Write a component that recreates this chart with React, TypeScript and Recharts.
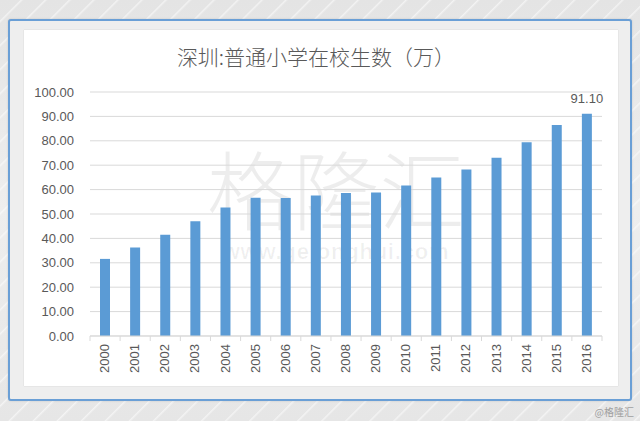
import { BarChart, Bar, XAxis, YAxis, CartesianGrid } from 'recharts';

// 深圳普通小学在校生数（万）
const years = ['2000', '2001', '2002', '2003', '2004', '2005', '2006', '2007', '2008', '2009', '2010', '2011', '2012', '2013', '2014', '2015', '2016'];
const students = [31.6, 36.3, 41.5, 47.0, 52.7, 56.7, 56.6, 57.6, 58.6, 58.8, 61.7, 65.0, 68.2, 73.1, 79.4, 86.5, 91.1];
const yTicks = [0, 10, 20, 30, 40, 50, 60, 70, 80, 90, 100];

const data = years.map((y, i) => ({ year: y, value: students[i] }));

const FONT = '"Liberation Sans", Arial, sans-serif';
const TEXT = '#595959';
const CHART_W = 594;
const CHART_H = 356;
const Y_W = 66;
const RIGHT = 16;
const HALF_BAND = (CHART_W - Y_W - RIGHT) / years.length / 2;

function YearTick({ x, y, payload, index }: any) {
  return (
    <g>
      <line x1={x - HALF_BAND} x2={x - HALF_BAND} y1={y - 8} y2={y - 3} stroke="#d9d9d9" />
      {index === years.length - 1 && (
        <line x1={x + HALF_BAND} x2={x + HALF_BAND} y1={y - 8} y2={y - 3} stroke="#d9d9d9" />
      )}
      <text
        x={0}
        y={0}
        transform={`translate(${x + 4},${y}) rotate(-90)`}
        textAnchor="end"
        fill={TEXT}
        fontSize={13}
        fontFamily={FONT}
      >
        {payload.value}
      </text>
    </g>
  );
}

function LastLabel({ x, y, width, index, value }: any) {
  if (index !== years.length - 1) return null;
  return (
    <text x={x + width / 2} y={y - 11} textAnchor="middle" fill={TEXT} fontSize={13} fontFamily={FONT}>
      {Number(value).toFixed(2)}
    </text>
  );
}

export default function App() {
  return (
    <div
      style={{
        position: 'absolute',
        left: 0,
        top: 0,
        width: 640,
        height: 421,
        overflow: 'hidden',
        background:
          'repeating-linear-gradient(135deg, rgba(255,255,255,0) 0px, rgba(255,255,255,0) 14px, rgba(255,255,255,0.55) 15px, rgba(255,255,255,0) 17px), linear-gradient(180deg, #e4e4e4 0%, #eeeeee 50%, #e6e6e6 100%)',
      }}
    >
      {/* blue frame */}
      <div
        style={{
          position: 'absolute',
          left: 8,
          top: 19,
          width: 620,
          height: 378,
          border: '2px solid #6a9fd6',
          borderRadius: 3,
          background: '#eeeeee',
          boxShadow: '0 0 2px rgba(0,0,0,0.15)',
        }}
      />
      {/* white panel */}
      <div
        style={{
          position: 'absolute',
          left: 24,
          top: 30,
          width: CHART_W,
          height: CHART_H,
          background: '#ffffff',
          boxShadow: '0 0 1px rgba(0,0,0,0.2)',
        }}
      />
      {/* watermark */}
      <div
        style={{
          position: 'absolute',
          left: 180,
          top: 143,
          width: 312,
          textAlign: 'center',
          whiteSpace: 'nowrap',
          fontFamily: '"Noto Sans CJK SC", sans-serif',
          fontWeight: 300,
          fontSize: 86,
          lineHeight: '88px',
          color: 'rgba(0,0,0,0.07)',
        }}
      >
        格隆汇
      </div>
      <div
        style={{
          position: 'absolute',
          left: 180,
          top: 240,
          width: 312,
          textAlign: 'center',
          whiteSpace: 'nowrap',
          fontFamily: FONT,
          fontWeight: 'bold',
          fontSize: 22,
          lineHeight: '24px',
          color: 'rgba(0,0,0,0.06)',
          letterSpacing: 0.8,
        }}
      >
        www.gelonghui.com
      </div>
      {/* title */}
      <div
        style={{
          position: 'absolute',
          left: 24,
          top: 42,
          width: CHART_W - 10,
          textAlign: 'center',
          fontFamily: '"Noto Sans CJK SC", sans-serif',
          fontWeight: 300,
          fontSize: 21,
          lineHeight: '28px',
          color: TEXT,
        }}
      >
        深圳:普通小学在校生数（万）
      </div>
      <div style={{ position: 'absolute', left: 24, top: 30 }}>
        <BarChart
          width={CHART_W}
          height={CHART_H}
          data={data}
          margin={{ top: 62, right: RIGHT, bottom: 0, left: 0 }}
          barCategoryGap={0}
        >
          <CartesianGrid vertical={false} stroke="#d9d9d9" />
          <XAxis
            dataKey="year"
            axisLine={{ stroke: '#d9d9d9' }}
            tickLine={false}
            height={50}
            interval={0}
            tick={<YearTick />}
          />
          <YAxis
            width={Y_W}
            domain={[0, 100]}
            ticks={yTicks}
            axisLine={false}
            tickLine={false}
            tickFormatter={(v: number) => v.toFixed(2)}
            tick={{ fill: TEXT, fontSize: 13, fontFamily: FONT, dx: -8 }}
          />
          <Bar dataKey="value" fill="#5b9bd5" barSize={10} isAnimationActive={false} label={<LastLabel />} />
        </BarChart>
      </div>
      <div
        style={{
          position: 'absolute',
          right: 6,
          top: 404,
          fontFamily: '"Noto Sans CJK SC", sans-serif',
          fontSize: 10,
          color: '#a0a0a0',
        }}
      >
        @格隆汇
      </div>
    </div>
  );
}
